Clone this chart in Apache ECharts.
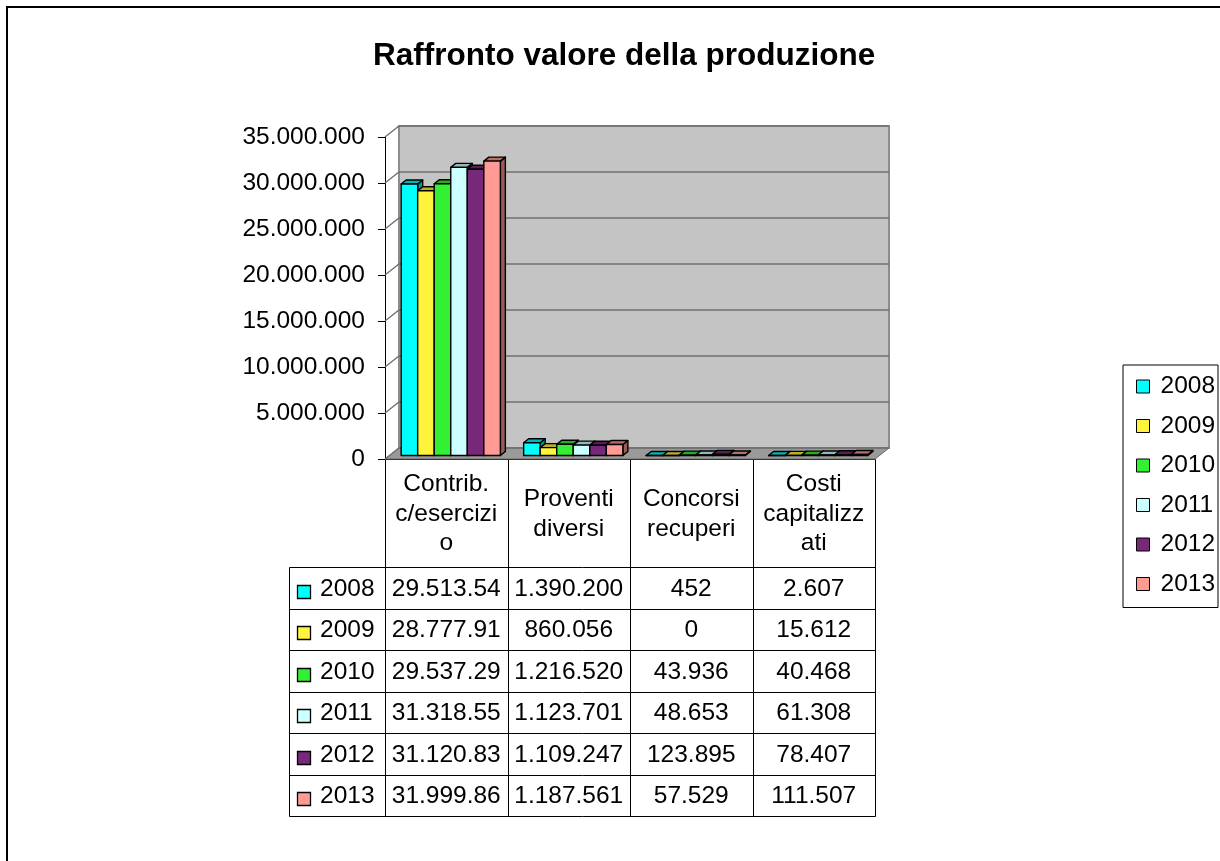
<!DOCTYPE html>
<html>
<head>
<meta charset="utf-8">
<script src="https://cdn.jsdelivr.net/npm/echarts@6/dist/echarts.min.js"></script>
<style>
  html, body { margin: 0; padding: 0; background: #ffffff; }
  #chart { width: 1220px; height: 861px; }
</style>
</head>
<body>
<div id="chart"></div>
<script>
// ---- data ----
const categories = ['Contrib. c/esercizio', 'Proventi diversi', 'Concorsi recuperi', 'Costi capitalizzati'];
const years = ['2008', '2009', '2010', '2011', '2012', '2013'];
const values2008 = [29513540, 1390200, 452, 2607];
const values2009 = [28777910, 860056, 0, 15612];
const values2010 = [29537290, 1216520, 43936, 40468];
const values2011 = [31318550, 1123701, 48653, 61308];
const values2012 = [31120830, 1109247, 123895, 78407];
const values2013 = [31999860, 1187561, 57529, 111507];
const yTicks = [0, 5000000, 10000000, 15000000, 20000000, 25000000, 30000000, 35000000];

const yearValues = [values2008, values2009, values2010, values2011, values2012, values2013];

// ---- style ----
const yearColors = ['#00FFFF', '#FFF33B', '#33F033', '#CCFFFF', '#782878', '#FF9A94'];
const FONT_FAMILY = '"Liberation Sans", Arial, Helvetica, sans-serif';
const FS = 24.5;
const WALL_DX = 14, WALL_DY = -11;   // depth of the 3D box
const BAR_DX = 4.5, BAR_DY = -3.5;   // where the bar fronts sit inside the box
const BAR_DEP_X = 5, BAR_DEP_Y = -4; // depth of each bar
const BAR_FRAC = 0.135;              // bar width as a share of the category band

function fmt(n) {
  return String(n).replace(/\B(?=(\d{3})+(?!\d))/g, '.');
}

function shade(hex, f) {
  const v = parseInt(hex.slice(1), 16);
  const r = Math.round(((v >> 16) & 255) * f);
  const g = Math.round(((v >> 8) & 255) * f);
  const b = Math.round((v & 255) * f);
  return 'rgb(' + r + ',' + g + ',' + b + ')';
}

// word wrap that also splits words longer than the cell
const measureCtx = document.createElement('canvas').getContext('2d');
function wrapLabel(text, maxW) {
  measureCtx.font = FS + 'px ' + FONT_FAMILY;
  const words = text.split(' ');
  const lines = [];
  let line = '';
  for (const w of words) {
    const cand = line ? line + ' ' + w : w;
    if (measureCtx.measureText(cand).width <= maxW) { line = cand; continue; }
    if (line) { lines.push(line); line = ''; }
    let piece = '';
    for (const ch of w) {
      if (piece && measureCtx.measureText(piece + ch).width > maxW) { lines.push(piece); piece = ch; }
      else piece += ch;
    }
    line = piece;
  }
  if (line) lines.push(line);
  return lines.join('\n');
}

// back wall, floor and wall gridlines of the 3D box
function frameRenderer(params, api) {
  const cs = params.coordSys;
  const x0 = cs.x, x1 = cs.x + cs.width, y0 = cs.y, y1 = cs.y + cs.height;
  const children = [];
  children.push({
    type: 'polygon',
    shape: { points: [[x0 + WALL_DX, y0 + WALL_DY], [x1 + WALL_DX, y0 + WALL_DY], [x1 + WALL_DX, y1 + WALL_DY], [x0 + WALL_DX, y1 + WALL_DY]] },
    style: { fill: '#c4c4c4', stroke: '#8c8c8c', lineWidth: 2 }
  });
  children.push({
    type: 'polygon',
    shape: { points: [[x0, y1], [x1, y1], [x1 + WALL_DX, y1 + WALL_DY], [x0 + WALL_DX, y1 + WALL_DY]] },
    style: { fill: '#9a9a9a', stroke: '#6a6a6a', lineWidth: 1 }
  });
  yTicks.forEach(function (v) {
    const y = api.coord([0, v])[1];
    children.push({
      type: 'polyline',
      shape: { points: [[x0, y], [x0 + WALL_DX, y + WALL_DY], [x1 + WALL_DX, y + WALL_DY]] },
      style: { stroke: '#707070', lineWidth: 1.3, fill: null }
    });
  });
  return { type: 'group', children: children };
}

// one 3D column: right side, top and front face
function barRenderer(k) {
  return function (params, api) {
    const cat = api.value(0), val = api.value(1);
    const base = api.coord([cat, 0]);
    const top = api.coord([cat, val]);
    const band = api.size([1, 0])[0];
    const bw = band * BAR_FRAC;
    const xl = base[0] - bw * years.length / 2 + k * bw + BAR_DX;
    const xr = xl + bw;
    const yb = base[1] + BAR_DY;
    const yt = top[1] + BAR_DY;
    const c = yearColors[k];
    const line = { stroke: '#000', lineWidth: 1.4, lineJoin: 'round' };
    return {
      type: 'group',
      children: [
        { type: 'polygon', shape: { points: [[xr, yt], [xr + BAR_DEP_X, yt + BAR_DEP_Y], [xr + BAR_DEP_X, yb + BAR_DEP_Y], [xr, yb]] },
          style: Object.assign({ fill: shade(c, 0.6) }, line) },
        { type: 'polygon', shape: { points: [[xl, yt], [xr, yt], [xr + BAR_DEP_X, yt + BAR_DEP_Y], [xl + BAR_DEP_X, yt + BAR_DEP_Y]] },
          style: Object.assign({ fill: shade(c, 0.72) }, line) },
        { type: 'rect', shape: { x: xl, y: yt, width: bw, height: yb - yt },
          style: Object.assign({ fill: c }, line) }
      ]
    };
  };
}

const series = [{
  name: 'frame',
  type: 'custom',
  z: 1,
  silent: true,
  clip: false,
  data: [[0, 0]],
  renderItem: frameRenderer
}];
years.forEach(function (yr, k) {
  series.push({
    name: yr,
    type: 'custom',
    z: 2,
    clip: false,
    itemStyle: { color: yearColors[k] },
    data: categories.map(function (c, j) { return [j, yearValues[k][j]]; }),
    encode: { x: 0, y: 1 },
    renderItem: barRenderer(k)
  });
});

const chart = echarts.init(document.getElementById('chart'), null, { renderer: 'canvas' });

chart.setOption({
  animation: false,
  backgroundColor: '#ffffff',
  textStyle: { fontFamily: FONT_FAMILY, color: '#000' },
  title: {
    text: 'Raffronto valore della produzione',
    left: 368,
    top: 35,
    textStyle: { fontFamily: FONT_FAMILY, fontSize: 31.5, fontWeight: 'bold', color: '#000' }
  },
  legend: {
    data: years,
    orient: 'vertical',
    left: 1123,
    top: 365,
    padding: [9, 3, 11, 13],
    itemGap: 14.5,
    itemWidth: 13,
    itemHeight: 13,
    icon: 'rect',
    borderColor: '#000',
    borderWidth: 1,
    itemStyle: { borderColor: '#000', borderWidth: 1 },
    textStyle: { fontFamily: FONT_FAMILY, fontSize: FS, color: '#000', padding: [0, 0, 0, 6] },
    selectedMode: false
  },
  grid: { left: 385, top: 137, width: 490, height: 322, containLabel: false, outerBoundsMode: 'none' },
  xAxis: {
    type: 'category',
    data: categories,
    axisLine: { show: true, lineStyle: { color: '#000', width: 1 } },
    axisTick: { show: false },
    splitLine: { show: false },
    axisLabel: {
      interval: 0,
      margin: 55,
      verticalAlign: 'middle',
      fontFamily: FONT_FAMILY,
      fontSize: FS,
      lineHeight: 29.5,
      color: '#000',
      formatter: function (v) { return wrapLabel(v, 110); }
    }
  },
  yAxis: {
    type: 'value',
    min: 0,
    max: 35000000,
    interval: 5000000,
    axisLine: { show: true, lineStyle: { color: '#000', width: 1 } },
    axisTick: { show: true, length: 7, lineStyle: { color: '#000' } },
    splitLine: { show: false },
    axisLabel: {
      margin: 20,
      fontFamily: FONT_FAMILY,
      fontSize: FS,
      color: '#000',
      formatter: function (v) { return fmt(v); }
    }
  },
  series: series
});

// ---- data table under the plot, aligned to the category bands ----
const centers = categories.map(function (c, j) { return chart.convertToPixel({ xAxisIndex: 0 }, j); });
const band = centers[1] - centers[0];
const axisY = chart.convertToPixel({ yAxisIndex: 0 }, 0);
const tableLeft = centers[0] - band / 2;
const tableRight = centers[centers.length - 1] + band / 2;
const HEADER_H = 108;
const ROW_H = 41.5;
const ROWHEAD_W = 96;
const bodyTop = axisY + HEADER_H;
const bodyBottom = bodyTop + ROW_H * years.length;
const rowHeadLeft = tableLeft - ROWHEAD_W;

function px(v) { return Math.round(v) + 0.5; }
const lineStyle = { stroke: '#000', lineWidth: 1 };
const elements = [];

// chart area border
elements.push({ type: 'polyline', silent: true, shape: { points: [[7, 870], [7, 7], [1230, 7]] }, style: { stroke: '#000', lineWidth: 2, fill: null } });

// column separators
for (let j = 0; j <= categories.length; j++) {
  const x = px(tableLeft + j * band);
  elements.push({ type: 'line', silent: true, shape: { x1: x, y1: px(axisY), x2: x, y2: px(bodyBottom) }, style: lineStyle });
}
elements.push({ type: 'line', silent: true, shape: { x1: px(rowHeadLeft), y1: px(bodyTop), x2: px(rowHeadLeft), y2: px(bodyBottom) }, style: lineStyle });
// row separators
for (let r = 0; r <= years.length; r++) {
  const y = px(bodyTop + r * ROW_H);
  elements.push({ type: 'line', silent: true, shape: { x1: px(rowHeadLeft), y1: y, x2: px(tableRight), y2: y }, style: lineStyle });
}

years.forEach(function (yr, k) {
  const cy = bodyTop + k * ROW_H + ROW_H / 2 + 1;
  elements.push({
    type: 'rect', silent: true,
    shape: { x: px(rowHeadLeft + 8), y: px(cy - 4), width: 13, height: 13 },
    style: { fill: yearColors[k], stroke: '#000', lineWidth: 1.3 }
  });
  elements.push({
    type: 'text', silent: true,
    style: { text: yr, x: rowHeadLeft + 31, y: cy, fill: '#000', font: FS + 'px ' + FONT_FAMILY, align: 'left', verticalAlign: 'middle' }
  });
  categories.forEach(function (c, j) {
    elements.push({
      type: 'text', silent: true,
      style: {
        text: fmt(yearValues[k][j]), x: centers[j], y: cy, fill: '#000',
        font: FS + 'px ' + FONT_FAMILY, align: 'center', verticalAlign: 'middle',
        width: band - 6, overflow: 'truncate', ellipsis: ''
      }
    });
  });
});

chart.setOption({ graphic: { elements: elements } });
</script>
</body>
</html>
